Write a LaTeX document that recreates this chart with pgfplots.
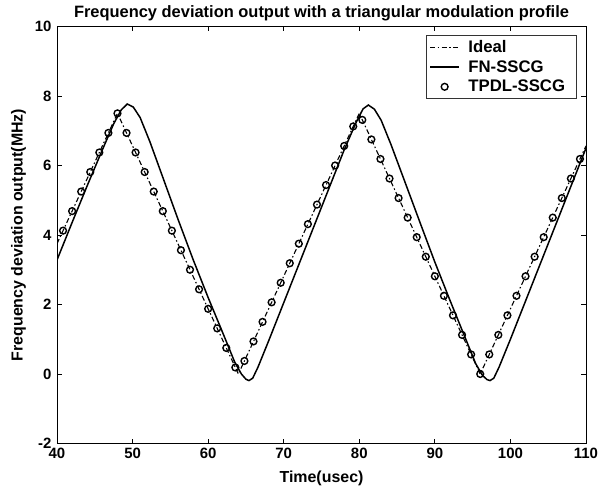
\documentclass[border=0pt]{standalone}
\usepackage{fontspec}
\setmainfont{Liberation Sans}
\usepackage{pgfplots}
\pgfplotsset{compat=1.18}
\pgfplotsset{
  lineleg/.style={legend image code/.code={\draw[##1] (0bp,0bp) -- (29bp,0bp);}},
  markleg/.style={legend image code/.code={\draw[##1] plot coordinates {(14.5bp,0bp)};}},
}
\begin{document}
\begin{tikzpicture}
\path[use as bounding box] (0,0) rectangle (598bp,499bp);
\begin{axis}[
  at={(57bp,55.5bp)}, anchor=south west,
  scale only axis, width=529bp, height=417bp,
  xmin=40, xmax=110, ymin=-2, ymax=10,
  xtick={40,50,...,110}, ytick={-2,0,...,10},
  tick align=inside, major tick length=5bp,
  every tick/.style={black, line width=0.8bp},
  axis line style={line width=1bp},
  /pgf/number format/assume math mode=true,
  tick label style={font=\fontsize{15}{16}\selectfont\bfseries},
  xticklabel style={yshift=-1bp},
  yticklabel style={xshift=-2bp},
  title={Frequency deviation output with a triangular modulation profile},
  title style={font=\fontsize{16.5}{19}\selectfont\bfseries, yshift=-4bp},
  xlabel={Time(usec)}, ylabel={Frequency deviation output(MHz)},
  label style={font=\fontsize{16}{18}\selectfont\bfseries},
  xlabel style={yshift=-6bp},
  ylabel style={yshift=2bp},
  legend style={at={(1,1)}, anchor=north east, xshift=-9bp, yshift=-8.5bp,
    font=\fontsize{16.8}{18}\selectfont\bfseries, draw=black!80, line width=0.8bp,
    row sep=3.5bp, inner xsep=3bp, inner ysep=3.5bp,
    nodes={inner ysep=1.5bp, inner xsep=8.5bp},
    /tikz/every odd column/.append style={column sep=0bp}},
  legend cell align=left,
]
\addplot[black, line width=1.1bp, dash pattern=on 5bp off 2.5bp on 1.5bp off 2.5bp, lineleg] coordinates {
(40,3.75) (48,7.5) (64,0) (80,7.5) (96,0) (110,6.5625)};
\addlegendentry{Ideal}
\addplot[black, line width=1.5bp, lineleg] coordinates {
(40,3.28) (42,4.36) (44,5.42) (46,6.45) (47.5,7.2) (48.5,7.6) (49.3,7.77) (50.1,7.68) (51.0,7.38) (52.3,6.68) (54.0,5.66) (56.0,4.46) (58.0,3.3) (60.0,2.2) (62.0,1.15) (63.5,0.35) (64.4,0.0) (65.0,-0.15) (65.4,-0.19) (65.9,-0.12) (66.6,0.2) (68,0.95) (70,2.05) (72,3.15) (74,4.25) (76,5.35) (78,6.45) (79.6,7.25) (80.5,7.63) (81.2,7.74) (82.0,7.62) (82.9,7.3) (84.2,6.6) (86.0,5.55) (88.0,4.38) (90.0,3.22) (92.0,2.12) (94.0,1.05) (95.4,0.3) (96.3,-0.04) (96.9,-0.16) (97.3,-0.19) (97.8,-0.12) (98.5,0.2) (100,1.0) (102,2.1) (104,3.2) (106,4.3) (108,5.4) (110,6.5)};
\addlegendentry{FN-SSCG}
\addplot[only marks, black, mark=o, mark size=3.4bp, mark options={line width=1.4bp}, markleg] coordinates {
(40.8,4.125) (42.0,4.6875) (43.2,5.25) (44.4,5.8125) (45.6,6.375) (46.8,6.9375) (48.0,7.5) (49.2,6.9375) (50.4,6.375) (51.6,5.8125) (52.8,5.25) (54.0,4.6875) (55.2,4.125) (56.4,3.5625) (57.6,3.0) (58.8,2.4375) (60.0,1.875) (61.2,1.3125) (62.4,0.75) (63.6,0.1875) (64.8,0.375) (66.0,0.9375) (67.2,1.5) (68.4,2.0625) (69.6,2.625) (70.8,3.1875) (72.0,3.75) (73.2,4.3125) (74.4,4.875) (75.6,5.4375) (76.8,6.0) (78.0,6.5625) (79.2,7.125) (80.4,7.3125) (81.6,6.75) (82.8,6.1875) (84.0,5.625) (85.2,5.0625) (86.4,4.5) (87.6,3.9375) (88.8,3.375) (90.0,2.8125) (91.2,2.25) (92.4,1.6875) (93.6,1.125) (94.8,0.5625) (96.0,0.0) (97.2,0.5625) (98.4,1.125) (99.6,1.6875) (100.8,2.25) (102.0,2.8125) (103.2,3.375) (104.4,3.9375) (105.6,4.5) (106.8,5.0625) (108.0,5.625) (109.2,6.1875)};
\addlegendentry{TPDL-SSCG}
\end{axis}
\end{tikzpicture}
\end{document}
